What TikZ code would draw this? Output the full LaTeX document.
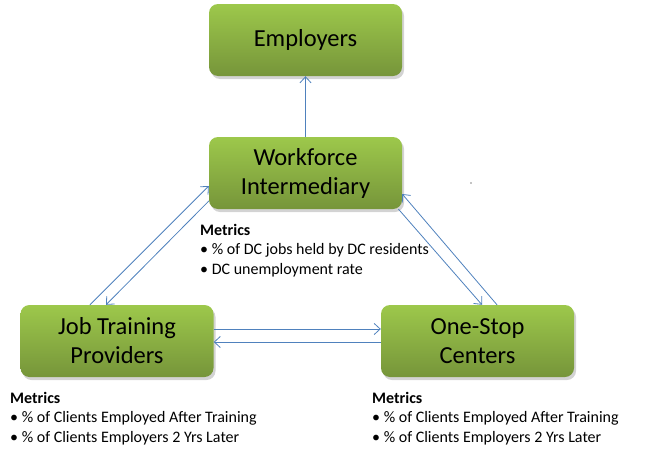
\documentclass[tikz,border=0pt]{standalone}
\usepackage{fontspec}
\setmainfont{Carlito}
\usetikzlibrary{arrows.meta,shadows}

\definecolor{boxtop}{HTML}{9DC84B}
\definecolor{boxbot}{HTML}{76953A}
\definecolor{linkblue}{HTML}{4F81BD}

\tikzset{
    box/.style = {rounded corners=9pt, minimum width=193pt, minimum height=72pt,
        top color=boxtop, bottom color=boxbot, align=center, inner sep=0pt,
        font=\fontsize{24.5}{29}\selectfont,
        drop shadow={shadow xshift=2pt, shadow yshift=-3pt, opacity=0.35}},
    link/.style = {draw=linkblue, line width=0.8pt, -{Straight Barb[length=6pt,width=11pt]}},
    metrics/.style = {anchor=base west, align=left, inner sep=0pt,
        font=\fontsize{16}{19.5}\selectfont}
}

\begin{document}
\begin{tikzpicture}[x=1pt, y=-1pt]
        \useasboundingbox (0,0) rectangle (650,455);

        % блоки
        \node [box] (emp) at ( 305.5, 40 ) {Employers};
        \node [box] (wi) at ( 305.5, 173 ) {Workforce\\Intermediary};
        \node [box] (jtp) at ( 117, 341 ) {Job Training\\Providers};
        \node [box] (osc) at ( 477.5, 341 ) {One-Stop\\Centers};

        % связи
        \draw [link] (wi.north) -- (emp.south);
        \draw [link] ([xshift=-27pt]jtp.north) -- ([yshift=-13pt]wi.west);
        \draw [link] ([yshift=-28pt]wi.west) -- ([xshift=-11pt]jtp.north);
        \draw [link] ([xshift=93pt]wi.south) -- ([xshift=4.5pt]osc.north);
        \draw [link] ([xshift=19.5pt]osc.north) -- ([yshift=-21pt]wi.east);
        \draw [link] ([yshift=12pt]jtp.east) -- ([yshift=12pt]osc.west);
        \draw [link] ([yshift=-1pt]osc.west) -- ([yshift=-1pt]jtp.east);

        % показатели (привязка к последней строке)
        \node [metrics] (wimet) at ( 200, 274 ) {\textbf{Metrics}\\\textbullet\ \% of DC jobs held by DC residents\\\textbullet\ DC unemployment rate};
        \node [metrics] (jtpmet) at ( 10, 442 ) {\textbf{Metrics}\\\textbullet\ \% of Clients Employed After Training\\\textbullet\ \% of Clients Employers 2 Yrs Later};
        \node [metrics] (oscmet) at ( 372, 442 ) {\textbf{Metrics}\\\textbullet\ \% of Clients Employed After Training\\\textbullet\ \% of Clients Employers 2 Yrs Later};

        % точка
        \fill ( 471, 183 ) circle [ radius = 0.6 ];
\end{tikzpicture}
\end{document}
